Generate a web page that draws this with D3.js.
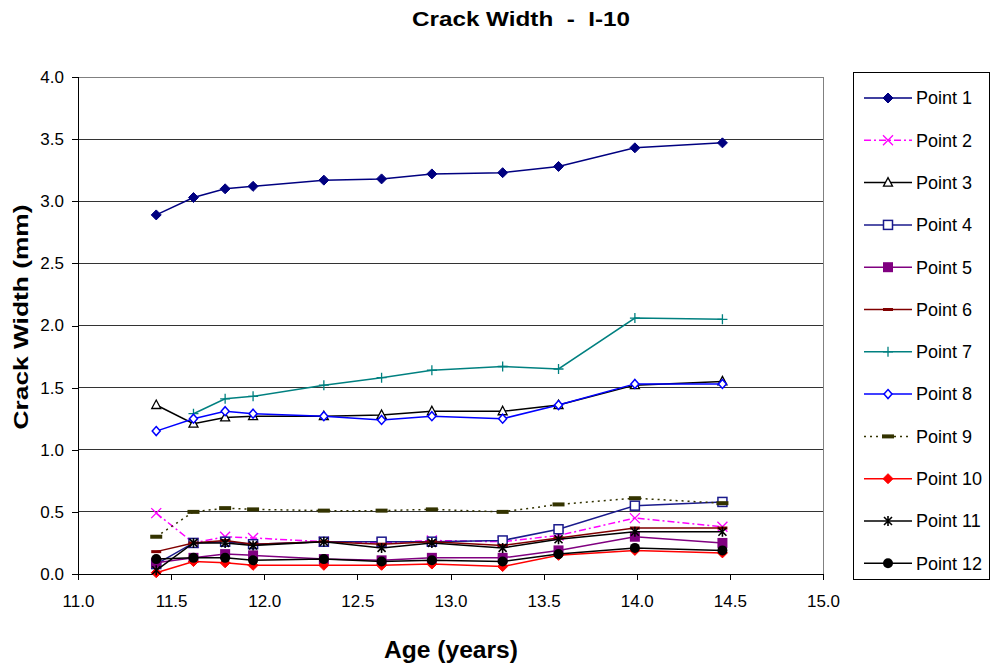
<!DOCTYPE html>
<html><head><meta charset="utf-8">
<script src="https://cdn.jsdelivr.net/npm/d3@7"></script>
<style>body{margin:0;background:#fff}svg{display:block;font-family:"Liberation Sans",Arial,sans-serif}text{white-space:pre}</style>
</head><body><svg id="c" width="994" height="668"></svg>
<script>
const ages = [11.42, 11.62, 11.79, 11.94, 12.32, 12.63, 12.90, 13.28, 13.58, 13.99, 14.46];
const point1 = [2.89, 3.03, 3.10, 3.12, 3.17, 3.18, 3.22, 3.23, 3.28, 3.43, 3.47];
const point2 = [0.49, 0.25, 0.30, 0.29, 0.26, 0.25, 0.27, 0.26, 0.31, 0.45, 0.38];
const point3 = [1.36, 1.21, 1.26, 1.27, 1.27, 1.28, 1.31, 1.31, 1.36, 1.52, 1.55];
const point4 = [0.08, 0.25, 0.26, 0.24, 0.26, 0.26, 0.26, 0.27, 0.36, 0.55, 0.58];
const point5 = [0.09, 0.13, 0.16, 0.15, 0.12, 0.11, 0.13, 0.13, 0.19, 0.30, 0.25];
const point6 = [0.18, 0.25, 0.27, 0.24, 0.26, 0.24, 0.26, 0.23, 0.29, 0.37, 0.37];
const point7 = [null, 1.29, 1.41, 1.43, 1.52, 1.58, 1.64, 1.67, 1.65, 2.06, 2.05];
const point8 = [1.15, 1.25, 1.31, 1.29, 1.27, 1.24, 1.27, 1.25, 1.36, 1.53, 1.53];
const point9 = [0.30, 0.50, 0.53, 0.52, 0.51, 0.51, 0.52, 0.50, 0.56, 0.61, 0.57];
const point10 = [0.01, 0.10, 0.09, 0.07, 0.07, 0.07, 0.08, 0.06, 0.15, 0.19, 0.17];
const point11 = [0.03, 0.25, 0.25, 0.23, 0.26, 0.21, 0.25, 0.21, 0.28, 0.34, 0.34];
const point12 = [0.12, 0.13, 0.13, 0.11, 0.12, 0.10, 0.11, 0.10, 0.16, 0.21, 0.19];
const seriesNames = ["Point 1","Point 2","Point 3","Point 4","Point 5","Point 6","Point 7","Point 8","Point 9","Point 10","Point 11","Point 12"];
const xTicks = [11.0, 11.5, 12.0, 12.5, 13.0, 13.5, 14.0, 14.5, 15.0];
const yTicks = [0.0, 0.5, 1.0, 1.5, 2.0, 2.5, 3.0, 3.5, 4.0];

const values = [point1,point2,point3,point4,point5,point6,point7,point8,point9,point10,point11,point12];
const styles = [
  {color:"#000080", dash:null, marker:"diamondFilled"},
  {color:"#FF00FF", dash:"7,3,2,3", marker:"x"},
  {color:"#000000", dash:null, marker:"triangle"},
  {color:"#1a1a8c", dash:null, marker:"squareOpen"},
  {color:"#800080", dash:null, marker:"squareFilled"},
  {color:"#800000", dash:null, marker:"dash"},
  {color:"#008080", dash:null, marker:"plus"},
  {color:"#0000FF", dash:null, marker:"diamondOpen"},
  {color:"#333300", dash:"2,4", marker:"dashThick"},
  {color:"#FF0000", dash:null, marker:"diamondFilled"},
  {color:"#000000", dash:null, marker:"star"},
  {color:"#000000", dash:null, marker:"circle"}
];

const svg = d3.select("#c");
const L=78, R=823, T=77, B=574;
const x = d3.scaleLinear().domain([11,15]).range([L,R]);
const y = d3.scaleLinear().domain([0,4]).range([B,T]);

svg.append("g").selectAll("line").data(yTicks.filter(d=>d>0)).join("line")
  .attr("x1",L).attr("x2",R).attr("y1",d=>y(d)).attr("y2",d=>y(d))
  .attr("stroke",d=>d===4?"#808080":"#333").attr("stroke-width",1).attr("shape-rendering","crispEdges");
svg.append("line").attr("x1",R).attr("x2",R).attr("y1",T).attr("y2",B).attr("stroke","#808080").attr("shape-rendering","crispEdges");

const xAxis = d3.axisBottom(x).tickValues(xTicks).tickFormat(d3.format(".1f")).tickSize(6);
const yAxis = d3.axisLeft(y).tickValues(yTicks).tickFormat(d3.format(".1f")).tickSize(6);
const gx = svg.append("g").attr("transform",`translate(0,${B})`).call(xAxis);
const gy = svg.append("g").attr("transform",`translate(${L},0)`).call(yAxis);
[gx,gy].forEach(g=>{
  g.selectAll("path,line").attr("stroke","#000").attr("shape-rendering","crispEdges");
  g.select(".domain").attr("d", g===gx ? `M${L},0H${R}` : `M0,${B}V${T}`);
  g.selectAll("text").attr("font-size",17).attr("fill","#000").attr("font-family","Liberation Sans, Arial, sans-serif");
});
gx.selectAll("text").attr("dy","1.4em");
gy.selectAll("text").attr("dx","-0.3em");

function drawMarker(g, type, color){
  switch(type){
    case "diamondFilled": g.append("path").attr("d","M0,-5L5,0L0,5L-5,0Z").attr("fill",color).attr("stroke",color); break;
    case "diamondOpen": g.append("path").attr("d","M0,-4.5L4,0L0,4.5L-4,0Z").attr("fill","#fff").attr("stroke",color).attr("stroke-width",1.5); break;
    case "x": g.append("path").attr("d","M-5,-5L5,5M-5,5L5,-5").attr("stroke",color).attr("stroke-width",1.3); break;
    case "triangle": g.append("path").attr("d","M0,-5L4.5,3.5L-4.5,3.5Z").attr("fill","#fff").attr("stroke",color).attr("stroke-width",1.3); break;
    case "squareOpen": g.append("rect").attr("x",-4.5).attr("y",-4.5).attr("width",9).attr("height",9).attr("fill","#fff").attr("stroke",color).attr("stroke-width",1.5); break;
    case "squareFilled": g.append("rect").attr("x",-5).attr("y",-5).attr("width",10).attr("height",10).attr("fill",color); break;
    case "dash": g.append("rect").attr("x",-5).attr("y",-1.5).attr("width",10).attr("height",3).attr("fill",color); break;
    case "dashThick": g.append("rect").attr("x",-6).attr("y",-2).attr("width",12).attr("height",4).attr("fill",color); break;
    case "plus": g.append("path").attr("d","M-5,0H5M0,-5V5").attr("stroke",color).attr("stroke-width",1.3); break;
    case "star": g.append("path").attr("d","M-4,-4L4,4M-4,4L4,-4M0,-5V5").attr("stroke",color).attr("stroke-width",1.6); break;
    case "circle": g.append("circle").attr("r",5).attr("fill",color); break;
  }
}

const line = d3.line().defined(d=>d.v!=null).x(d=>x(d.a)).y(d=>y(d.v));
const plot = svg.append("g");
for(let i=0;i<values.length;i++){
  const data = ages.map((a,j)=>({a, v:values[i][j]}));
  const st = styles[i];
  const g = plot.append("g");
  g.append("path").datum(data).attr("d",line).attr("fill","none")
    .attr("stroke",st.color).attr("stroke-width",1.5).attr("stroke-dasharray",st.dash);
  data.filter(d=>d.v!=null).forEach(d=>{
    const m = g.append("g").attr("transform",`translate(${x(d.a)},${y(d.v)})`);
    drawMarker(m, st.marker, st.color);
  });
}

const lg = svg.append("g");
lg.append("rect").attr("x",853.5).attr("y",72.5).attr("width",136).attr("height",507)
  .attr("fill","#fff").attr("stroke","#000").attr("stroke-width",1);
seriesNames.forEach((n,i)=>{
  const yy = 98 + i*42.3;
  const st = styles[i];
  lg.append("line").attr("x1",864).attr("x2",912).attr("y1",yy).attr("y2",yy)
    .attr("stroke",st.color).attr("stroke-width",1.5).attr("stroke-dasharray",st.dash);
  const m = lg.append("g").attr("transform",`translate(888,${yy})`);
  drawMarker(m, st.marker, st.color);
  lg.append("text").attr("x",916).attr("y",yy).attr("dy","0.35em").attr("font-size",18).text(n);
});

svg.append("text").attr("x",521).attr("y",26).attr("text-anchor","middle")
  .attr("font-size",21).attr("font-weight","bold")
  .attr("textLength",218).attr("lengthAdjust","spacingAndGlyphs").text("Crack Width  -  I-10");
svg.append("text").attr("x",451).attr("y",658).attr("text-anchor","middle")
  .attr("font-size",23).attr("font-weight","bold")
  .attr("textLength",134).attr("lengthAdjust","spacingAndGlyphs").text("Age (years)");
svg.append("text").attr("transform",`translate(28,317) rotate(-90)`).attr("text-anchor","middle")
  .attr("font-size",21).attr("font-weight","bold")
  .attr("textLength",225).attr("lengthAdjust","spacingAndGlyphs").text("Crack Width (mm)");
</script></body></html>
